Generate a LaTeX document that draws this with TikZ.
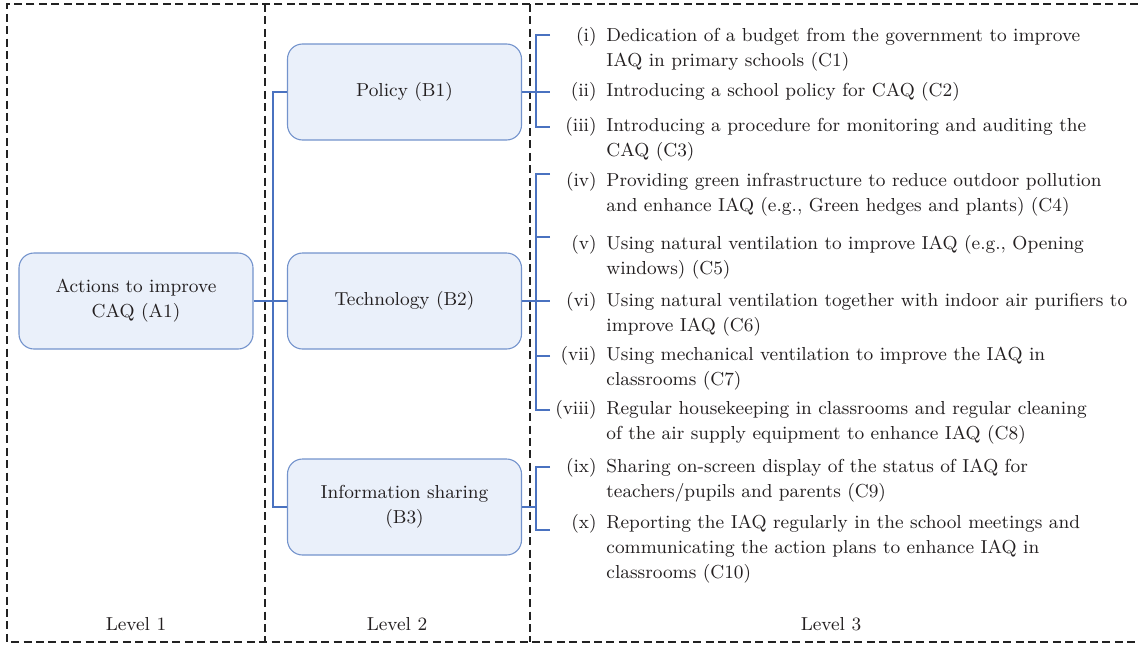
\documentclass[tikz,border=0pt]{standalone}
\usepackage{fontspec}
\definecolor{boxfill}{HTML}{EAF0FA}
\definecolor{boxline}{HTML}{7393CC}
\definecolor{connblue}{HTML}{4A72C0}
\definecolor{frame}{HTML}{222222}
\definecolor{textcol}{HTML}{231F20}
\begin{document}
\begin{tikzpicture}[x=0.5pt,y=-0.5pt,
  every node/.style={font=\fontsize{9.4}{12.5}\selectfont, text=textcol},
  levelbox/.style={draw=boxline, fill=boxfill, line width=0.55pt, rounded corners=7.5pt,
    minimum width=117pt, minimum height=48pt, align=center, inner sep=0pt},
  frameline/.style={draw=frame, line width=0.6pt, dash pattern=on 4pt off 2.2pt},
  conn/.style={draw=connblue, line width=0.6pt},
  itemlab/.style={anchor=north east, inner sep=0pt},
  itemtext/.style={anchor=north west, inner sep=0pt, align=left},
  leveltext/.style={inner sep=0pt}]
\useasboundingbox (0,0) rectangle (1138,648);
% frame
\draw[frameline] (1138,4) -- (7,4) -- (7,642) -- (1138,642);
\draw[frameline] (265,4) -- (265,642);
\draw[frameline] (530,4) -- (530,642);
\node[leveltext] (L1) at (136,624) {Level 1};
\node[leveltext] (L2) at (397,624) {Level 2};
\node[leveltext] (L3) at (831,624) {Level 3};
% boxes
\node[levelbox, minimum width=117pt] (A1) at (136,301) {Actions to improve\\CAQ (A1)};
\node[levelbox] (B1) at (404.5,92) {Policy (B1)};
\node[levelbox] (B2) at (404.5,301) {Technology (B2)};
\node[levelbox] (B3) at (404.5,507) {Information sharing\\(B3)};
% trunk
\coordinate (jx) at (273,0);
\coordinate (bx) at (536,0);
\draw[conn] (A1.east) -- (A1.east -| jx);
\draw[conn] (B1.west) -- (B1.west -| jx) -- (B3.west -| jx) -- (B3.west);
\draw[conn] (B2.west) -- (B2.west -| jx);
% items
\node[itemlab] (li) at (597,24) {\strut(i)};
\node[itemtext] (ci) at (606,24) {\strut Dedication of a budget from the government to improve\\IAQ in primary schools (C1)};
\node[itemlab] (lii) at (597,79) {\strut(ii)};
\node[itemtext] (cii) at (606,79) {\strut Introducing a school policy for CAQ (C2)};
\node[itemlab] (liii) at (597,114) {\strut(iii)};
\node[itemtext] (ciii) at (606,114) {\strut Introducing a procedure for monitoring and auditing the\\CAQ (C3)};
\node[itemlab] (liv) at (597,169) {\strut(iv)};
\node[itemtext] (civ) at (606,169) {\strut Providing green infrastructure to reduce outdoor pollution\\and enhance IAQ (e.g., Green hedges and plants) (C4)};
\node[itemlab] (lv) at (597,232) {\strut(v)};
\node[itemtext] (cv) at (606,232) {\strut Using natural ventilation to improve IAQ (e.g., Opening\\windows) (C5)};
\node[itemlab] (lvi) at (597,289) {\strut(vi)};
\node[itemtext] (cvi) at (606,289) {\strut Using natural ventilation together with indoor air purifiers to\\improve IAQ (C6)};
\node[itemlab] (lvii) at (597,343) {\strut(vii)};
\node[itemtext] (cvii) at (606,343) {\strut Using mechanical ventilation to improve the IAQ in\\classrooms (C7)};
\node[itemlab] (lviii) at (597,397) {\strut(viii)};
\node[itemtext] (cviii) at (606,397) {\strut Regular housekeeping in classrooms and regular cleaning\\of the air supply equipment to enhance IAQ (C8)};
\node[itemlab] (lix) at (597,455) {\strut(ix)};
\node[itemtext] (cix) at (606,455) {\strut Sharing on-screen display of the status of IAQ for\\teachers/pupils and parents (C9)};
\node[itemlab] (lx) at (597,511) {\strut(x)};
\node[itemtext] (cx) at (606,511) {\strut Reporting the IAQ regularly in the school meetings and\\communicating the action plans to enhance IAQ in\\classrooms (C10)};
% bracket tick ends
\coordinate (t1) at (550,35);
\coordinate (t2) at (550,92);
\coordinate (t3) at (550,127);
\coordinate (t4) at (550,174);
\coordinate (t5) at (550,237);
\coordinate (t6) at (550,301);
\coordinate (t7) at (550,356);
\coordinate (t8) at (550,410);
\coordinate (t9) at (550,467);
\coordinate (t10) at (550,530);
% brackets
\draw[conn] (t1) -- (t1 -| bx) -- (t3 -| bx) -- (t3);
\draw[conn] (B1.east) -- (t2);
\draw[conn] (t4) -- (t4 -| bx) -- (t8 -| bx) -- (t8);
\draw[conn] (t5) -- (t5 -| bx);
\draw[conn] (t7) -- (t7 -| bx);
\draw[conn] (B2.east) -- (t6);
\draw[conn] (t9) -- (t9 -| bx) -- (t10 -| bx) -- (t10);
\draw[conn] (B3.east) -- (B3.east -| bx);
\end{tikzpicture}
\end{document}
